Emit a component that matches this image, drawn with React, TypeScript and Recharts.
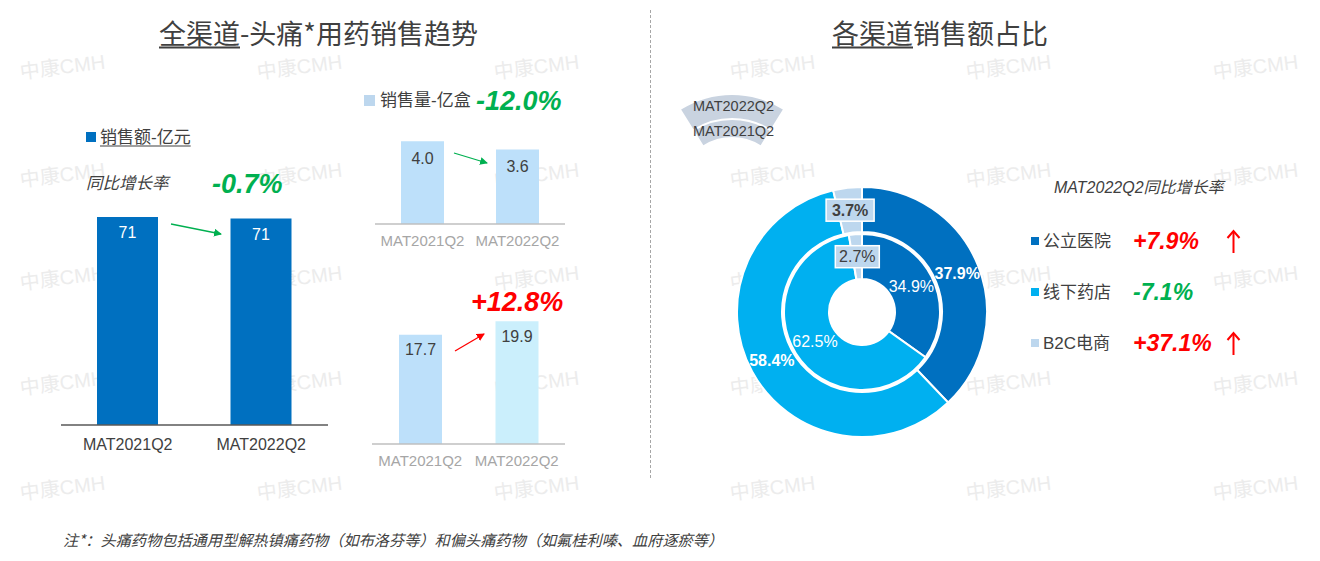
import React from 'react';
import { BarChart, Bar, XAxis, YAxis, LabelList, Cell, PieChart, Pie, Sector } from 'recharts';

// ---------- data ----------
const periods = ['MAT2021Q2', 'MAT2022Q2'];
const salesValue = [71.3, 70.8]; // 销售额-亿元
const salesVolume = [4.0, 3.6]; // 销售量-亿盒
const avgPrice = [17.7, 19.9];
const valueGrowth = '-0.7%';
const volumeGrowth = '-12.0%';
const priceGrowth = '+12.8%';
const channels = ['公立医院', '线下药店', 'B2C电商'];
const share2022 = [37.9, 58.4, 3.7];
const share2021 = [34.9, 62.5, 2.7];
const channelGrowth = ['+7.9%', '-7.1%', '+37.1%'];
const channelUp = [true, false, true];
const ringNames = ['MAT2022Q2', 'MAT2021Q2'];
const watermark = '中康CMH';
const footnote = '注*：头痛药物包括通用型解热镇痛药物（如布洛芬等）和偏头痛药物（如氟桂利嗪、血府逐瘀等）';

// ---------- styles ----------
const FONT = "'Liberation Sans', Arial, 'Noto Sans CJK SC', sans-serif";
const CJK = "'Noto Sans CJK SC', 'Liberation Sans', sans-serif";
const DARK = '#404040';
const GREEN = '#00B050';
const RED = '#FF0000';
const channelColors = ['#0070C0', '#00B0F0', '#BDD7EE'];
const RAD = Math.PI / 180;

const valueData = periods.map((p, i) => ({ period: p, value: salesValue[i] }));
const volumeData = periods.map((p, i) => ({ period: p, value: salesVolume[i] }));
const priceData = periods.map((p, i) => ({ period: p, value: avgPrice[i] }));
const outerData = channels.map((c, i) => ({ name: c, v: share2022[i] }));
const innerData = channels.map((c, i) => ({ name: c, v: share2021[i] }));

const T = ({ x, y, children, style }: any) => (
  <div
    style={{
      position: 'absolute',
      left: x,
      top: y,
      transform: 'translateY(-50%)',
      whiteSpace: 'nowrap',
      lineHeight: 1,
      fontFamily: FONT,
      color: DARK,
      ...style,
    }}
  >
    {children}
  </div>
);

const makeLabel = (bold: boolean) => (p: any) => {
  const r = (p.innerRadius + p.outerRadius) / 2;
  const x = p.cx + r * Math.cos(-p.midAngle * RAD);
  const y = p.cy + r * Math.sin(-p.midAngle * RAD);
  const text = `${Number(p.value).toFixed(1)}%`;
  if (p.index === 2) {
    const w = bold ? 48 : 44;
    return (
      <g key={`l${p.index}`}>
        <rect x={x - w / 2} y={y - 11} width={w} height={22} fill="#BDD7EE" stroke="#fff" strokeWidth={1.5} />
        <text x={x} y={y} textAnchor="middle" dominantBaseline="central" fill={DARK} fontSize={16} fontFamily={FONT} fontWeight={bold ? 700 : 400}>
          {text}
        </text>
      </g>
    );
  }
  return (
    <text key={`l${p.index}`} x={x} y={y} textAnchor="middle" dominantBaseline="central" fill="#fff" fontSize={16} fontFamily={FONT} fontWeight={bold ? 700 : 400}>
      {text}
    </text>
  );
};

const wmCols = [20, 257, 494, 730, 966, 1213];
const wmRows = [72, 180, 283, 388, 493];

export default function App() {
  return (
    <div style={{ position: 'absolute', left: 0, top: 0, width: 1320, height: 561, background: '#fff', overflow: 'hidden', fontFamily: FONT }}>
      {/* watermarks */}
      {wmRows.map((y) =>
        wmCols.map((x) => (
          <div
            key={`${x}-${y}`}
            style={{
              position: 'absolute',
              left: x,
              top: y - 12,
              fontSize: 20,
              lineHeight: '24px',
              color: '#ECECEC',
              fontFamily: FONT,
              transform: 'rotate(-7deg)',
              transformOrigin: 'left center',
              whiteSpace: 'nowrap',
            }}
          >
            {watermark}
          </div>
        ))
      )}

      {/* divider, arrows, fan legend */}
      <svg width={1320} height={561} style={{ position: 'absolute', left: 0, top: 0 }}>
        <line x1={650.5} y1={10} x2={650.5} y2={478} stroke="#A6A6A6" strokeDasharray="3 2" strokeWidth={1} />
        <defs>
          <marker id="ag" markerWidth="8" markerHeight="8" refX="7" refY="4" orient="auto" markerUnits="userSpaceOnUse">
            <path d="M0,0 L8,4 L0,8 z" fill={GREEN} />
          </marker>
          <marker id="ar" markerWidth="8" markerHeight="8" refX="7" refY="4" orient="auto" markerUnits="userSpaceOnUse">
            <path d="M0,0 L8,4 L0,8 z" fill={RED} />
          </marker>
        </defs>
        <line x1={171} y1={224} x2={221} y2={234} stroke={GREEN} strokeWidth={1.3} markerEnd="url(#ag)" />
        <line x1={454} y1={153} x2={487} y2={163} stroke={GREEN} strokeWidth={1.3} markerEnd="url(#ag)" />
        <line x1={455} y1={351} x2={484} y2={334} stroke={RED} strokeWidth={1.3} markerEnd="url(#ar)" />
        {channelUp.map((up, i) =>
          up ? (
            <g key={i} stroke={RED} strokeWidth={2} fill="none">
              <line x1={1233.5} y1={253 + i * 51} x2={1233.5} y2={231 + i * 51} />
              <polyline points={`${1227.5},${238 + i * 51} ${1233.5},${231 + i * 51} ${1239.5},${238 + i * 51}`} />
            </g>
          ) : null
        )}
        <Sector cx={732} cy={191} innerRadius={73} outerRadius={96} startAngle={122} endAngle={58} fill="#C9D3E0" />
        <Sector cx={732} cy={191} innerRadius={54} outerRadius={71} startAngle={122} endAngle={58} fill="#C9D3E0" />
      </svg>

      {/* titles */}
      <T x={159} y={32} style={{ fontSize: 27, fontFamily: CJK }}>
        <span style={{ textDecoration: 'underline', textUnderlineOffset: 3 }}>全渠道</span>-头痛*用药销售趋势
      </T>
      <T x={832} y={32} style={{ fontSize: 27, fontFamily: CJK }}>
        <span style={{ textDecoration: 'underline', textUnderlineOffset: 3 }}>各渠道</span>销售额占比
      </T>

      {/* left legends */}
      <div style={{ position: 'absolute', left: 86, top: 132, width: 10, height: 10, background: '#0070C0' }} />
      <T x={100} y={137} style={{ fontSize: 17, textDecoration: 'underline', textUnderlineOffset: 3 }}>销售额-亿元</T>
      <T x={86} y={183} style={{ fontSize: 16.5, fontStyle: 'italic' }}>同比增长率</T>
      <T x={212} y={184} style={{ fontSize: 27, fontStyle: 'italic', fontWeight: 700, color: GREEN }}>{valueGrowth}</T>

      <div style={{ position: 'absolute', left: 364, top: 95, width: 11, height: 11, background: '#BDD7EE' }} />
      <T x={380} y={100} style={{ fontSize: 17 }}>销售量-亿盒</T>
      <T x={476} y={101} style={{ fontSize: 27, fontStyle: 'italic', fontWeight: 700, color: GREEN }}>{volumeGrowth}</T>
      <T x={471} y={302} style={{ fontSize: 27, fontStyle: 'italic', fontWeight: 700, color: RED }}>{priceGrowth}</T>

      {/* left bar chart */}
      <div style={{ position: 'absolute', left: 0, top: 0 }}>
        <BarChart width={340} height={470} data={valueData} margin={{ top: 150, right: 12, bottom: 15, left: 61 }}>
          <XAxis dataKey="period" height={30} interval={0} axisLine={{ stroke: '#595959', strokeWidth: 1.5 }} tickLine={false} tick={{ fill: DARK, fontSize: 16, fontFamily: FONT }} tickMargin={8} />
          <YAxis hide domain={[0, 94.3]} />
          <Bar dataKey="value" fill="#0070C0" barSize={61} isAnimationActive={false}>
            <LabelList dataKey="value" position="insideTop" offset={10} fill="#fff" fontSize={16} fontFamily={FONT} formatter={(v: any) => Math.round(Number(v))} />
          </Bar>
        </BarChart>
      </div>

      {/* top middle chart */}
      <div style={{ position: 'absolute', left: 350, top: 0 }}>
        <BarChart width={240} height={260} data={volumeData} margin={{ top: 100, right: 25, bottom: 6, left: 25 }}>
          <XAxis dataKey="period" height={30} interval={0} axisLine={{ stroke: '#BFBFBF', strokeWidth: 1.5 }} tickLine={false} tick={{ fill: '#A6A6A6', fontSize: 15, fontFamily: FONT }} tickMargin={5} />
          <YAxis hide domain={[0, 6]} />
          <Bar dataKey="value" fill="#BDE0FA" barSize={43} isAnimationActive={false}>
            <LabelList dataKey="value" position="insideTop" offset={11} fill={DARK} fontSize={16} fontFamily={FONT} formatter={(v: any) => Number(v).toFixed(1)} />
          </Bar>
        </BarChart>
      </div>

      {/* bottom middle chart */}
      <div style={{ position: 'absolute', left: 350, top: 0 }}>
        <BarChart width={240} height={480} data={priceData} margin={{ top: 259, right: 25, bottom: 6, left: 22 }}>
          <XAxis dataKey="period" height={30} interval={0} axisLine={{ stroke: '#BFBFBF', strokeWidth: 1.5 }} tickLine={false} tick={{ fill: '#A6A6A6', fontSize: 15, fontFamily: FONT }} tickMargin={5} />
          <YAxis hide domain={[0, 30]} />
          <Bar dataKey="value" barSize={43} isAnimationActive={false}>
            {priceData.map((d, i) => (
              <Cell key={d.period} fill={i === 0 ? '#BDE0FA' : '#CBEFFC'} />
            ))}
            <LabelList dataKey="value" position="insideTop" offset={9} fill={DARK} fontSize={16} fontFamily={FONT} formatter={(v: any) => Number(v).toFixed(1)} />
          </Bar>
        </BarChart>
      </div>

      {/* donut */}
      <div style={{ position: 'absolute', left: 650, top: 0 }}>
        <PieChart width={670} height={561}>
          <Pie data={outerData} dataKey="v" cx={207} cy={307} innerRadius={80} outerRadius={125} startAngle={90} endAngle={-270} stroke="#fff" strokeWidth={2} labelLine={false} label={makeLabel(true)} isAnimationActive={false}>
            {outerData.map((d, i) => (
              <Cell key={d.name} fill={channelColors[i]} />
            ))}
          </Pie>
          <Pie data={innerData} dataKey="v" cx={207} cy={307} innerRadius={33} outerRadius={78} startAngle={90} endAngle={-270} stroke="#fff" strokeWidth={2} labelLine={false} label={makeLabel(false)} isAnimationActive={false}>
            {innerData.map((d, i) => (
              <Cell key={d.name} fill={channelColors[i]} />
            ))}
          </Pie>
        </PieChart>
      </div>
      <T x={693} y={106} style={{ fontSize: 14.5 }}>{ringNames[0]}</T>
      <T x={693} y={131} style={{ fontSize: 14.5 }}>{ringNames[1]}</T>

      {/* right legend */}
      <T x={1054} y={188} style={{ fontSize: 16, fontStyle: 'italic' }}>MAT2022Q2同比增长率</T>
      {channels.map((c, i) => (
        <React.Fragment key={c}>
          <div style={{ position: 'absolute', left: 1031, top: 237 + i * 51, width: 8, height: 8, background: channelColors[i] }} />
          <T x={1043} y={241 + i * 51} style={{ fontSize: 17 }}>{c}</T>
          <T x={1133} y={241 + i * 51} style={{ fontSize: 23, fontStyle: 'italic', fontWeight: 700, color: channelGrowth[i].startsWith('+') ? RED : GREEN }}>
            {channelGrowth[i]}
          </T>
        </React.Fragment>
      ))}

      {/* footnote */}
      <T x={63} y={540} style={{ fontSize: 15.2, fontStyle: 'italic', fontFamily: CJK }}>{footnote}</T>
    </div>
  );
}
